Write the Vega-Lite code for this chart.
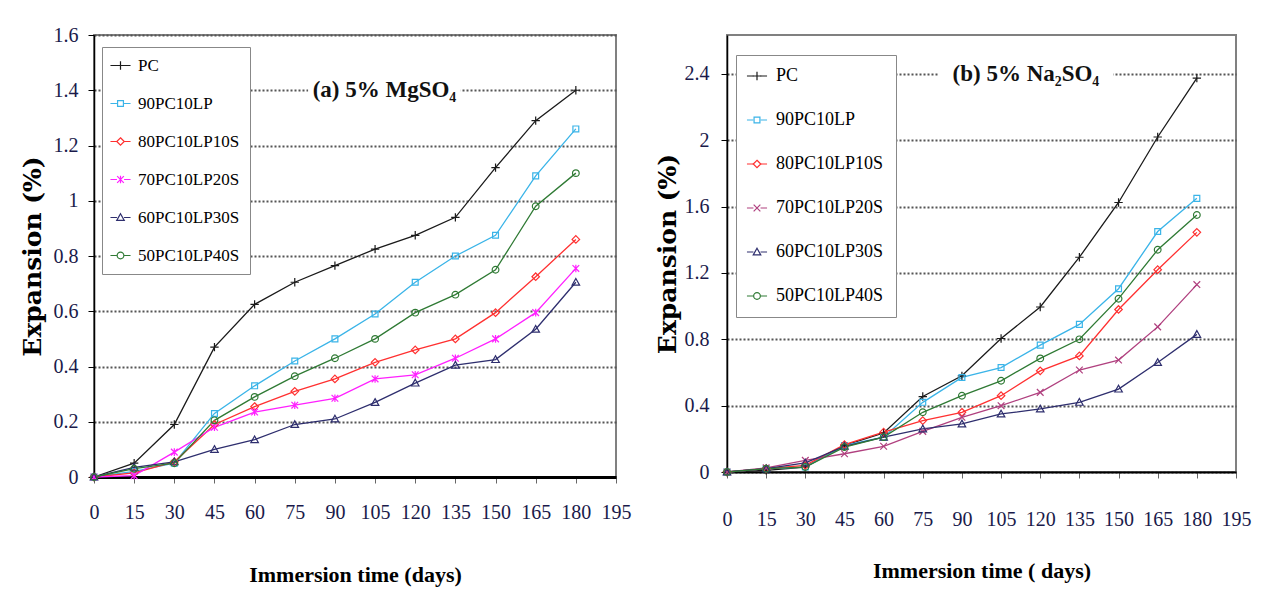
{
  "$schema": "https://vega.github.io/schema/vega-lite/v6.json",
  "background": "white",
  "padding": {"left": 19, "top": 24, "right": 5, "bottom": 5},
  "bounds": "flush",
  "spacing": 111,
  "datasets": {
    "a": [
      {"s":"PC","d":0,"v":0},{"s":"PC","d":15,"v":0.05},{"s":"PC","d":30,"v":0.19},{"s":"PC","d":45,"v":0.47},{"s":"PC","d":60,"v":0.625},{"s":"PC","d":75,"v":0.705},{"s":"PC","d":90,"v":0.765},{"s":"PC","d":105,"v":0.825},{"s":"PC","d":120,"v":0.875},{"s":"PC","d":135,"v":0.94},{"s":"PC","d":150,"v":1.12},{"s":"PC","d":165,"v":1.29},{"s":"PC","d":180,"v":1.4},
      {"s":"90PC10LP","d":0,"v":0},{"s":"90PC10LP","d":15,"v":0.02},{"s":"90PC10LP","d":30,"v":0.05},{"s":"90PC10LP","d":45,"v":0.23},{"s":"90PC10LP","d":60,"v":0.33},{"s":"90PC10LP","d":75,"v":0.42},{"s":"90PC10LP","d":90,"v":0.5},{"s":"90PC10LP","d":105,"v":0.59},{"s":"90PC10LP","d":120,"v":0.705},{"s":"90PC10LP","d":135,"v":0.8},{"s":"90PC10LP","d":150,"v":0.875},{"s":"90PC10LP","d":165,"v":1.09},{"s":"90PC10LP","d":180,"v":1.26},
      {"s":"80PC10LP10S","d":0,"v":0},{"s":"80PC10LP10S","d":15,"v":0.015},{"s":"80PC10LP10S","d":30,"v":0.055},{"s":"80PC10LP10S","d":45,"v":0.19},{"s":"80PC10LP10S","d":60,"v":0.255},{"s":"80PC10LP10S","d":75,"v":0.31},{"s":"80PC10LP10S","d":90,"v":0.355},{"s":"80PC10LP10S","d":105,"v":0.415},{"s":"80PC10LP10S","d":120,"v":0.46},{"s":"80PC10LP10S","d":135,"v":0.5},{"s":"80PC10LP10S","d":150,"v":0.595},{"s":"80PC10LP10S","d":165,"v":0.725},{"s":"80PC10LP10S","d":180,"v":0.86},
      {"s":"70PC10LP20S","d":0,"v":0},{"s":"70PC10LP20S","d":15,"v":0.005},{"s":"70PC10LP20S","d":30,"v":0.09},{"s":"70PC10LP20S","d":45,"v":0.18},{"s":"70PC10LP20S","d":60,"v":0.235},{"s":"70PC10LP20S","d":75,"v":0.26},{"s":"70PC10LP20S","d":90,"v":0.285},{"s":"70PC10LP20S","d":105,"v":0.355},{"s":"70PC10LP20S","d":120,"v":0.37},{"s":"70PC10LP20S","d":135,"v":0.43},{"s":"70PC10LP20S","d":150,"v":0.5},{"s":"70PC10LP20S","d":165,"v":0.595},{"s":"70PC10LP20S","d":180,"v":0.755},
      {"s":"60PC10LP30S","d":0,"v":0},{"s":"60PC10LP30S","d":15,"v":0.035},{"s":"60PC10LP30S","d":30,"v":0.055},{"s":"60PC10LP30S","d":45,"v":0.1},{"s":"60PC10LP30S","d":60,"v":0.135},{"s":"60PC10LP30S","d":75,"v":0.19},{"s":"60PC10LP30S","d":90,"v":0.21},{"s":"60PC10LP30S","d":105,"v":0.27},{"s":"60PC10LP30S","d":120,"v":0.34},{"s":"60PC10LP30S","d":135,"v":0.405},{"s":"60PC10LP30S","d":150,"v":0.425},{"s":"60PC10LP30S","d":165,"v":0.535},{"s":"60PC10LP30S","d":180,"v":0.705},
      {"s":"50PC10LP40S","d":0,"v":0},{"s":"50PC10LP40S","d":15,"v":0.03},{"s":"50PC10LP40S","d":30,"v":0.05},{"s":"50PC10LP40S","d":45,"v":0.205},{"s":"50PC10LP40S","d":60,"v":0.29},{"s":"50PC10LP40S","d":75,"v":0.365},{"s":"50PC10LP40S","d":90,"v":0.43},{"s":"50PC10LP40S","d":105,"v":0.5},{"s":"50PC10LP40S","d":120,"v":0.595},{"s":"50PC10LP40S","d":135,"v":0.66},{"s":"50PC10LP40S","d":150,"v":0.75},{"s":"50PC10LP40S","d":165,"v":0.98},{"s":"50PC10LP40S","d":180,"v":1.1}
    ],
    "b": [
      {"s":"PC","d":0,"v":0},{"s":"PC","d":15,"v":0.01},{"s":"PC","d":30,"v":0.03},{"s":"PC","d":45,"v":0.16},{"s":"PC","d":60,"v":0.235},{"s":"PC","d":75,"v":0.455},{"s":"PC","d":90,"v":0.58},{"s":"PC","d":105,"v":0.805},{"s":"PC","d":120,"v":0.995},{"s":"PC","d":135,"v":1.295},{"s":"PC","d":150,"v":1.625},{"s":"PC","d":165,"v":2.02},{"s":"PC","d":180,"v":2.375},
      {"s":"90PC10LP","d":0,"v":0},{"s":"90PC10LP","d":15,"v":0.02},{"s":"90PC10LP","d":30,"v":0.03},{"s":"90PC10LP","d":45,"v":0.16},{"s":"90PC10LP","d":60,"v":0.21},{"s":"90PC10LP","d":75,"v":0.42},{"s":"90PC10LP","d":90,"v":0.57},{"s":"90PC10LP","d":105,"v":0.63},{"s":"90PC10LP","d":120,"v":0.765},{"s":"90PC10LP","d":135,"v":0.89},{"s":"90PC10LP","d":150,"v":1.105},{"s":"90PC10LP","d":165,"v":1.45},{"s":"90PC10LP","d":180,"v":1.65},
      {"s":"80PC10LP10S","d":0,"v":0},{"s":"80PC10LP10S","d":15,"v":0.02},{"s":"80PC10LP10S","d":30,"v":0.04},{"s":"80PC10LP10S","d":45,"v":0.165},{"s":"80PC10LP10S","d":60,"v":0.24},{"s":"80PC10LP10S","d":75,"v":0.31},{"s":"80PC10LP10S","d":90,"v":0.36},{"s":"80PC10LP10S","d":105,"v":0.46},{"s":"80PC10LP10S","d":120,"v":0.61},{"s":"80PC10LP10S","d":135,"v":0.7},{"s":"80PC10LP10S","d":150,"v":0.98},{"s":"80PC10LP10S","d":165,"v":1.22},{"s":"80PC10LP10S","d":180,"v":1.445},
      {"s":"70PC10LP20S","d":0,"v":0},{"s":"70PC10LP20S","d":15,"v":0.025},{"s":"70PC10LP20S","d":30,"v":0.07},{"s":"70PC10LP20S","d":45,"v":0.11},{"s":"70PC10LP20S","d":60,"v":0.155},{"s":"70PC10LP20S","d":75,"v":0.245},{"s":"70PC10LP20S","d":90,"v":0.33},{"s":"70PC10LP20S","d":105,"v":0.4},{"s":"70PC10LP20S","d":120,"v":0.48},{"s":"70PC10LP20S","d":135,"v":0.615},{"s":"70PC10LP20S","d":150,"v":0.675},{"s":"70PC10LP20S","d":165,"v":0.875},{"s":"70PC10LP20S","d":180,"v":1.13},
      {"s":"60PC10LP30S","d":0,"v":0},{"s":"60PC10LP30S","d":15,"v":0.02},{"s":"60PC10LP30S","d":30,"v":0.055},{"s":"60PC10LP30S","d":45,"v":0.155},{"s":"60PC10LP30S","d":60,"v":0.21},{"s":"60PC10LP30S","d":75,"v":0.26},{"s":"60PC10LP30S","d":90,"v":0.29},{"s":"60PC10LP30S","d":105,"v":0.35},{"s":"60PC10LP30S","d":120,"v":0.38},{"s":"60PC10LP30S","d":135,"v":0.42},{"s":"60PC10LP30S","d":150,"v":0.5},{"s":"60PC10LP30S","d":165,"v":0.66},{"s":"60PC10LP30S","d":180,"v":0.83},
      {"s":"50PC10LP40S","d":0,"v":0},{"s":"50PC10LP40S","d":15,"v":0.02},{"s":"50PC10LP40S","d":30,"v":0.03},{"s":"50PC10LP40S","d":45,"v":0.15},{"s":"50PC10LP40S","d":60,"v":0.21},{"s":"50PC10LP40S","d":75,"v":0.36},{"s":"50PC10LP40S","d":90,"v":0.46},{"s":"50PC10LP40S","d":105,"v":0.55},{"s":"50PC10LP40S","d":120,"v":0.685},{"s":"50PC10LP40S","d":135,"v":0.8},{"s":"50PC10LP40S","d":150,"v":1.045},{"s":"50PC10LP40S","d":165,"v":1.34},{"s":"50PC10LP40S","d":180,"v":1.55}
    ]
  },
  "hconcat": [
    {
      "width": 522,
      "height": 442,
      "encoding": {
        "x": {"field": "d", "type": "quantitative", "scale": {"domain": [0, 195], "nice": false},
          "axis": {"title": "Immersion time (days)", "values": [0,15,30,45,60,75,90,105,120,135,150,165,180,195], "labelPadding": 19, "tickSize": 6, "domainWidth": 3, "titlePadding": 42, "titleFontSize": 22, "labelOverlap": false, "labelFlush": false}},
        "y": {"field": "v", "type": "quantitative", "scale": {"domain": [0, 1.6], "nice": false},
          "axis": {"title": "Expansion (%)", "titleFont": "DejaVu Serif", "values": [0,0.2,0.4,0.6,0.8,1,1.2,1.4,1.6], "format": "~g", "grid": true, "gridDash": [2, 2], "gridColor": "#555555", "gridWidth": 2, "tickSize": 6, "tickColor": "#000000", "labelPadding": 10, "titleFontSize": 25, "titlePadding": 8, "domainWidth": 1.5}}
      },
      "layer": [
        {"data": {"values": [{"d": 80, "d2": 137, "v": 1.35, "v2": 1.45}]}, "mark": {"type": "rect", "fill": "white"}, "encoding": {"x2": {"field": "d2"}, "y2": {"field": "v2"}}},
        {"data": {"values": [{"d": 108.5, "v": 1.4, "t": "(a) 5% MgSO₄"}]}, "mark": {"type": "text", "fontSize": 23, "fontWeight": "bold", "font": "Liberation Serif", "color": "#111111"}, "encoding": {"text": {"field": "t"}}},
        {"data": {"name": "a"}, "mark": {"type": "line", "strokeWidth": 1.3},
          "encoding": {"stroke": {"field": "s", "type": "nominal",
            "scale": {"domain": ["PC","90PC10LP","80PC10LP10S","70PC10LP20S","60PC10LP30S","50PC10LP40S","-"], "range": ["#1a1a1a","#3ab4e8","#ff3030","#ff20ff","#2e2e6e","#2f7a34","#ffffff"]},
            "legend": {"values": ["PC","90PC10LP","80PC10LP10S","70PC10LP20S","60PC10LP30S","50PC10LP40S"], "orient": "none", "legendX": 8, "legendY": 12, "title": null, "fillColor": "white", "strokeColor": "#888888", "padding": 10, "labelFontSize": 17, "labelFontWeight": "normal", "labelFont": "Liberation Serif", "labelColor": "#000000", "symbolType": "M-2.4,0H-0.85M0.85,0H2.4", "symbolSize": 70, "symbolStrokeWidth": 1.2, "rowPadding": 20, "labelOffset": 9}}}},
        {"data": {"name": "a"}, "mark": {"type": "point", "filled": false, "size": 70, "strokeWidth": 1.2, "opacity": 1},
          "encoding": {
            "color": {"field": "s", "type": "nominal", "scale": {"domain": ["PC","90PC10LP","80PC10LP10S","70PC10LP20S","60PC10LP30S","50PC10LP40S"], "range": ["#1a1a1a","#3ab4e8","#ff3030","#ff20ff","#2e2e6e","#2f7a34"]},
              "legend": {"orient": "none", "legendX": 8, "legendY": 12, "title": null, "padding": 10, "labelFontSize": 17, "labelFontWeight": "normal", "labelFont": "Liberation Serif", "labelColor": "#000000", "labelOpacity": 0, "symbolSize": 70, "symbolStrokeWidth": 1.2, "rowPadding": 20, "labelOffset": 9}},
            "shape": {"field": "s", "type": "nominal", "scale": {"domain": ["PC","90PC10LP","80PC10LP10S","70PC10LP20S","60PC10LP30S","50PC10LP40S"], "range": ["M-1,0H1M0,-1V1","M-0.7,-0.7H0.7V0.7H-0.7Z","M0,-0.9L0.9,0L0,0.9L-0.9,0Z","M-0.8,-0.8L0.8,0.8M0.8,-0.8L-0.8,0.8M0,-0.9V0.9","M0,-0.9L0.9,0.7H-0.9Z","M-0.8,0A0.8,0.8,0,1,0,0.8,0A0.8,0.8,0,1,0,-0.8,0Z"]},
              "legend": {"orient": "none", "legendX": 8, "legendY": 12, "title": null, "padding": 10, "labelFontSize": 17, "labelFontWeight": "normal", "labelFont": "Liberation Serif", "labelColor": "#000000", "labelOpacity": 0, "symbolSize": 70, "symbolStrokeWidth": 1.2, "rowPadding": 20, "labelOffset": 9}}
          }}
      ]
    },
    {
      "width": 509,
      "height": 437,
      "encoding": {
        "x": {"field": "d", "type": "quantitative", "scale": {"domain": [0, 195], "nice": false},
          "axis": {"title": "Immersion time ( days)", "values": [0,15,30,45,60,75,90,105,120,135,150,165,180,195], "labelPadding": 31, "tickSize": 6, "domainWidth": 2, "titlePadding": 31, "titleFontSize": 22, "labelOverlap": false, "labelFlush": false}},
        "y": {"field": "v", "type": "quantitative", "scale": {"domain": [0, 2.635], "nice": false},
          "axis": {"title": "Expansion (%)", "titleFont": "DejaVu Serif", "values": [0,0.4,0.8,1.2,1.6,2,2.4], "format": "~g", "grid": true, "gridDash": [2, 2], "gridColor": "#555555", "gridWidth": 2, "tickSize": 6, "tickColor": "#000000", "labelPadding": 12, "titleFontSize": 25, "titlePadding": 4, "domainWidth": 1.5}}
      },
      "layer": [
        {"data": {"values": [{"d": 81, "d2": 148, "v": 2.32, "v2": 2.48}]}, "mark": {"type": "rect", "fill": "white"}, "encoding": {"x2": {"field": "d2"}, "y2": {"field": "v2"}}},
        {"data": {"values": [{"d": 114.5, "v": 2.4, "t": "(b) 5% Na₂SO₄"}]}, "mark": {"type": "text", "fontSize": 23, "fontWeight": "bold", "font": "Liberation Serif", "color": "#111111"}, "encoding": {"text": {"field": "t"}}},
        {"data": {"name": "b"}, "mark": {"type": "line", "strokeWidth": 1.3},
          "encoding": {"stroke": {"field": "s", "type": "nominal",
            "scale": {"domain": ["PC","90PC10LP","80PC10LP10S","70PC10LP20S","60PC10LP30S","50PC10LP40S","-"], "range": ["#1a1a1a","#3ab4e8","#ff3030","#b0407f","#2e2e6e","#2f7a34","#ffffff"]},
            "legend": {"values": ["PC","90PC10LP","80PC10LP10S","70PC10LP20S","60PC10LP30S","50PC10LP40S"], "orient": "none", "legendX": 9, "legendY": 20, "title": null, "fillColor": "white", "strokeColor": "#888888", "padding": 12, "labelFontSize": 18, "labelFontWeight": "normal", "labelFont": "Liberation Serif", "labelColor": "#000000", "symbolType": "M-2.4,0H-0.85M0.85,0H2.4", "symbolSize": 70, "symbolStrokeWidth": 1.2, "rowPadding": 26, "labelOffset": 10}}}},
        {"data": {"name": "b"}, "mark": {"type": "point", "filled": false, "size": 70, "strokeWidth": 1.2, "opacity": 1},
          "encoding": {
            "color": {"field": "s", "type": "nominal", "scale": {"domain": ["PC","90PC10LP","80PC10LP10S","70PC10LP20S","60PC10LP30S","50PC10LP40S"], "range": ["#1a1a1a","#3ab4e8","#ff3030","#b0407f","#2e2e6e","#2f7a34"]},
              "legend": {"orient": "none", "legendX": 9, "legendY": 20, "title": null, "padding": 12, "labelFontSize": 18, "labelFontWeight": "normal", "labelFont": "Liberation Serif", "labelColor": "#000000", "labelOpacity": 0, "symbolSize": 70, "symbolStrokeWidth": 1.2, "rowPadding": 26, "labelOffset": 10}},
            "shape": {"field": "s", "type": "nominal", "scale": {"domain": ["PC","90PC10LP","80PC10LP10S","70PC10LP20S","60PC10LP30S","50PC10LP40S"], "range": ["M-1,0H1M0,-1V1","M-0.7,-0.7H0.7V0.7H-0.7Z","M0,-0.9L0.9,0L0,0.9L-0.9,0Z","M-0.8,-0.8L0.8,0.8M0.8,-0.8L-0.8,0.8","M0,-0.9L0.9,0.7H-0.9Z","M-0.8,0A0.8,0.8,0,1,0,0.8,0A0.8,0.8,0,1,0,-0.8,0Z"]},
              "legend": {"orient": "none", "legendX": 9, "legendY": 20, "title": null, "padding": 12, "labelFontSize": 18, "labelFontWeight": "normal", "labelFont": "Liberation Serif", "labelColor": "#000000", "labelOpacity": 0, "symbolSize": 70, "symbolStrokeWidth": 1.2, "rowPadding": 26, "labelOffset": 10}}
          }}
      ]
    }
  ],
  "resolve": {"scale": {"color": "independent", "shape": "independent", "stroke": "independent"}},
  "config": {
    "font": "Liberation Serif",
    "view": {"stroke": "#808080", "strokeWidth": 2},
    "axis": {"labelFont": "Liberation Serif", "labelFontSize": 20, "labelColor": "#1a1a4a", "titleFont": "Liberation Serif", "titleFontWeight": "bold", "titleColor": "#000000", "grid": false, "domainColor": "#000000", "tickColor": "#666666"}
  }
}
